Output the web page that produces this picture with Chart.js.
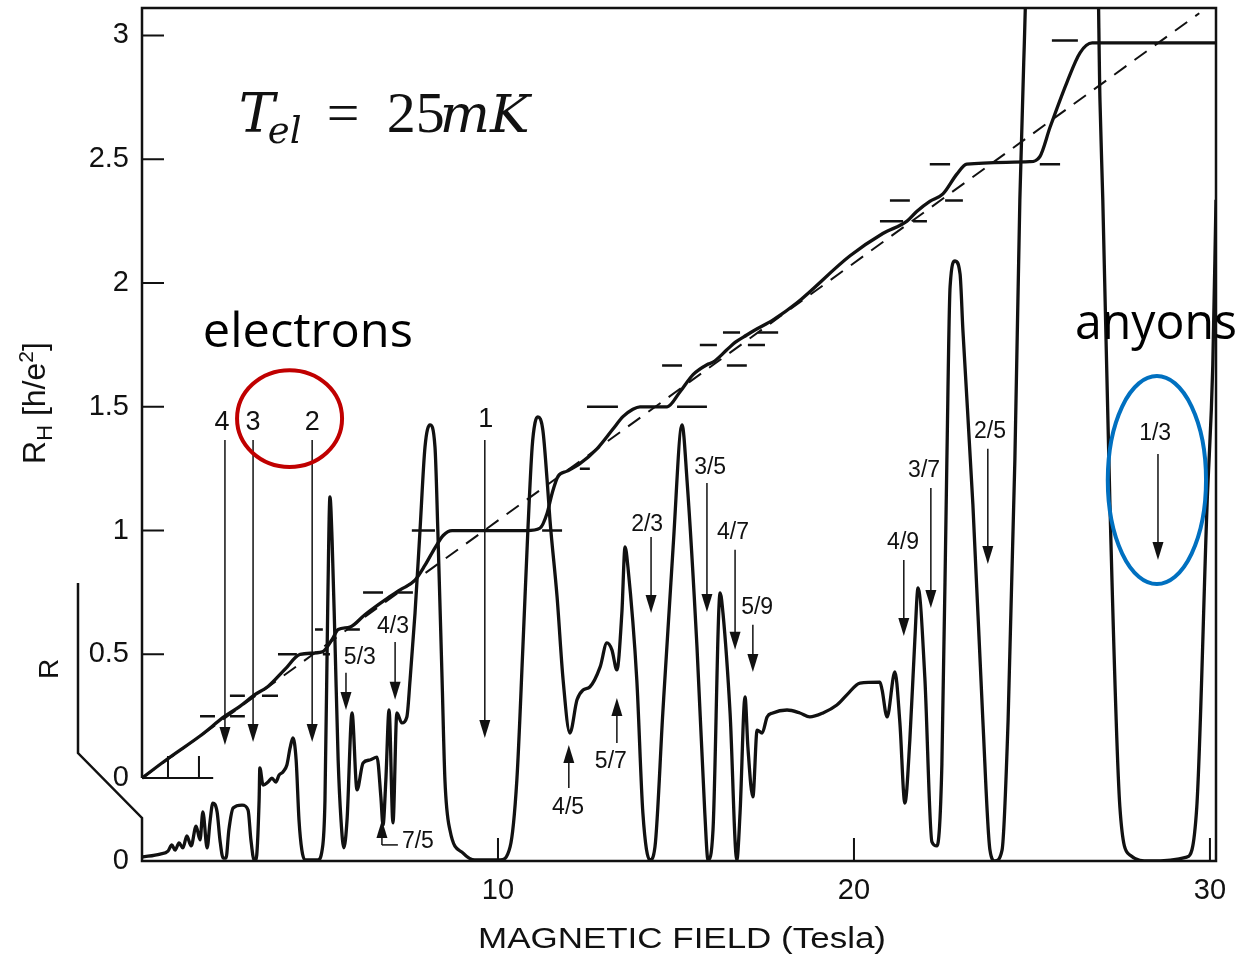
<!DOCTYPE html>
<html>
<head>
<meta charset="utf-8">
<title>Fractional quantum Hall effect</title>
<script src="https://cdn.jsdelivr.net/npm/chart.js@4.4.1/dist/chart.umd.min.js"></script>
<style>
  html, body { margin: 0; padding: 0; background: #fff; }
  #wrap { width: 1254px; height: 957px; }
</style>
</head>
<body>
<div id="wrap"><canvas id="qhe" width="1254" height="957"></canvas></div>
<script>
// Hall resistance R_H [h/e^2] vs magnetic field [T]
const hallField = [0, 0.79, 1.63, 2.33, 2.75, 3.15, 3.54, 4.02, 4.44, 5.06, 5.34, 5.51, 5.84, 6.26, 6.83, 7.25, 7.67, 7.95, 8.23, 8.46, 8.71, 10.81, 11.18, 11.38, 11.52, 11.69, 11.94, 12.30, 12.78, 13.23, 13.51, 13.79, 13.99, 14.75, 15.11, 15.48, 15.87, 16.04, 16.43, 16.66, 16.99, 17.22, 17.72, 18.40, 19.89, 20.81, 21.49, 21.77, 22.13, 22.50, 22.89, 23.17, 24.94, 25.22, 25.51, 25.98, 26.35, 26.69, 30.17];
const hallRH = [0, 0.085, 0.17, 0.25, 0.29, 0.335, 0.37, 0.44, 0.50, 0.51, 0.56, 0.60, 0.61, 0.66, 0.72, 0.76, 0.80, 0.86, 0.93, 0.98, 1.00, 1.00, 1.01, 1.07, 1.15, 1.22, 1.24, 1.27, 1.33, 1.41, 1.46, 1.49, 1.50, 1.50, 1.56, 1.63, 1.67, 1.68, 1.73, 1.76, 1.79, 1.81, 1.85, 1.92, 2.11, 2.20, 2.25, 2.29, 2.33, 2.36, 2.44, 2.48, 2.49, 2.51, 2.63, 2.81, 2.93, 2.97, 2.97];

// classical Hall line (dashed)
const classicalField = [0, 29.7];
const classicalRH = [0, 3.09];

// longitudinal resistance R (arbitrary units, same scale as R_H)
const rField = [0.00, 0.51, 0.73, 0.84, 0.93, 1.04, 1.15, 1.26, 1.38, 1.52, 1.63, 1.71, 1.83, 1.91, 1.99, 2.11, 2.19, 2.28, 2.36, 2.44, 2.56, 2.81, 2.98, 3.06, 3.15, 3.20, 3.29, 3.31, 3.40, 3.54, 3.65, 3.76, 3.85, 3.96, 4.07, 4.16, 4.24, 4.33, 4.41, 4.49, 4.58, 4.94, 5.06, 5.14, 5.22, 5.28, 5.34, 5.42, 5.51, 5.59, 5.67, 5.76, 5.90, 6.04, 6.21, 6.40, 6.60, 6.71, 6.77, 6.85, 6.94, 7.05, 7.16, 7.30, 7.44, 7.53, 7.67, 7.81, 7.95, 8.09, 8.23, 8.31, 8.43, 8.51, 8.65, 9.02, 9.35, 10.06, 10.34, 10.53, 10.70, 10.84, 10.96, 11.04, 11.12, 11.26, 11.38, 11.46, 11.66, 11.83, 12.02, 12.22, 12.39, 12.58, 12.87, 13.06, 13.20, 13.34, 13.48, 13.57, 13.65, 13.90, 14.07, 14.27, 14.41, 14.63, 14.92, 15.17, 15.31, 15.59, 15.81, 15.90, 16.04, 16.24, 16.32, 16.52, 16.71, 16.80, 16.94, 17.02, 17.16, 17.28, 17.42, 17.56, 17.72, 18.12, 18.48, 18.76, 19.13, 19.52, 19.80, 20.17, 20.73, 20.79, 20.93, 21.15, 21.29, 21.43, 21.57, 21.71, 21.80, 21.99, 22.19, 22.33, 22.47, 22.61, 22.70, 22.84, 22.98, 23.06, 23.34, 23.62, 23.82, 23.96, 24.16, 24.33, 24.52, 24.66, 24.78, 24.89, 26.83, 26.91, 26.99, 27.19, 27.47, 27.75, 28.31, 29.35, 29.63, 29.92, 30.08, 30.17];
const rValues = [0.016, 0.028, 0.040, 0.065, 0.044, 0.073, 0.053, 0.101, 0.061, 0.141, 0.085, 0.198, 0.053, 0.158, 0.234, 0.198, 0.085, 0.012, 0.012, 0.125, 0.214, 0.226, 0.206, 0.085, 0.004, 0.004, 0.246, 0.376, 0.307, 0.319, 0.335, 0.319, 0.347, 0.360, 0.388, 0.457, 0.497, 0.408, 0.166, 0.044, 0.004, 0.004, 0.044, 0.246, 1.055, 1.471, 1.297, 0.893, 0.408, 0.166, 0.053, 0.166, 0.598, 0.287, 0.396, 0.408, 0.420, 0.259, 0.145, 0.327, 0.610, 0.154, 0.598, 0.558, 0.582, 0.731, 1.002, 1.337, 1.673, 1.762, 1.673, 1.337, 0.731, 0.327, 0.125, 0.032, 0.004, 0.004, 0.057, 0.327, 0.865, 1.337, 1.673, 1.770, 1.794, 1.741, 1.539, 1.378, 1.067, 0.731, 0.517, 0.651, 0.691, 0.703, 0.784, 0.881, 0.853, 0.772, 1.002, 1.269, 1.188, 0.731, 0.194, 0.004, 0.057, 0.598, 1.269, 1.762, 1.539, 0.865, 0.194, 0.004, 0.125, 1.083, 1.002, 0.598, 0.004, 0.194, 0.663, 0.461, 0.259, 0.529, 0.517, 0.582, 0.598, 0.610, 0.598, 0.582, 0.598, 0.630, 0.671, 0.719, 0.723, 0.691, 0.582, 0.764, 0.558, 0.234, 0.489, 0.893, 1.103, 0.743, 0.077, 0.061, 0.392, 1.620, 2.319, 2.424, 2.372, 2.145, 1.442, 0.570, 0.044, 0.000, 0.044, 0.570, 1.620, 2.671, 3.277, 3.72, 3.72, 3.075, 2.671, 1.442, 0.218, 0.024, 0.000, 0.016, 0.218, 1.442, 2.004, 2.671];

// short horizontal marks at the quantized R_H values
const markLevel = [0.25, 0.25, 0.333, 0.333, 0.5, 0.5, 0.6, 0.6, 0.75, 0.75, 1, 1, 1.25, 1.5, 1.5, 1.667, 1.667, 1.75, 1.75, 1.8, 1.8, 2.25, 2.25, 2.333, 2.333, 2.48, 2.48, 2.98];
const markFrom = [1.63, 2.47, 2.47, 3.37, 3.82, 5.08, 4.86, 5.76, 6.21, 7.16, 7.58, 11.24, 12.30, 12.50, 15.03, 14.61, 16.43, 15.67, 17.02, 16.32, 17.30, 20.73, 21.66, 21.01, 22.56, 22.13, 25.22, 25.56];
const markTo = [2.05, 2.89, 2.89, 3.82, 4.35, 5.28, 5.08, 6.12, 6.77, 7.61, 8.23, 11.80, 12.58, 13.37, 15.87, 15.17, 16.99, 16.15, 17.50, 16.80, 17.87, 21.38, 22.05, 21.57, 23.06, 22.70, 25.79, 26.29];

// filling factor arrows (field, R of tail and tip, label position)
const arrowLabels = ['4', '3', '2', '1', '5/3', '4/3', '7/5', '4/5', '5/7', '2/3', '3/5', '4/7', '5/9', '4/9', '3/7', '2/5', '1/3'];
const arrowField = [2.33, 3.12, 4.78, 9.63, 5.73, 7.11, 6.74, 11.99, 13.34, 14.30, 15.87, 16.66, 17.16, 21.40, 22.16, 23.76, 28.54];
const arrowTail = [1.701, 1.701, 1.701, 1.701, 0.760, 0.885, 0.065, 0.295, 0.477, 1.309, 1.527, 1.257, 0.954, 1.216, 1.507, 1.665, 1.644];
const arrowTip = [0.469, 0.481, 0.481, 0.497, 0.610, 0.651, 0.166, 0.469, 0.659, 1.002, 1.006, 0.853, 0.764, 0.909, 1.022, 1.200, 1.216];
const labelField = [2.25, 3.12, 4.78, 9.66, 6.12, 7.05, 7.75, 11.97, 13.17, 14.19, 15.96, 16.60, 17.28, 21.38, 21.97, 23.82, 28.46];
const labelR = [1.770, 1.770, 1.770, 1.782, 0.820, 0.945, 0.077, 0.214, 0.400, 1.358, 1.588, 1.325, 1.022, 1.285, 1.576, 1.733, 1.725];

// axis ticks
const xTicks = [10, 20, 30];
const rhTicks = [0, 0.5, 1, 1.5, 2, 2.5, 3];
const baselineTicks = [0.73, 1.6];

const INK = '#111';
const SANS = '"Liberation Sans", Arial, sans-serif';
const CALIBRI = '"Open Sans", "Noto Sans", sans-serif';

function pairs(xs, ys) {
  return xs.map((v, i) => ({ x: v, y: ys[i] }));
}

function markData() {
  const out = [];
  markLevel.forEach((lvl, i) => {
    out.push({ x: markFrom[i], y: lvl }, { x: markTo[i], y: lvl }, { x: markTo[i], y: null });
  });
  return out;
}

// draw text stretched to a given width
function fitText(ctx, text, x, y, width, size, family) {
  ctx.font = size + 'px ' + family;
  const w = ctx.measureText(text).width;
  ctx.save();
  ctx.translate(x, y);
  ctx.scale(width / w, 1);
  ctx.textAlign = 'left';
  ctx.fillText(text, 0, 0);
  ctx.restore();
}

function arrow(ctx, px, yTail, yTip) {
  const dir = yTip > yTail ? 1 : -1;
  ctx.beginPath();
  ctx.moveTo(px, yTail);
  ctx.lineTo(px, yTip - dir * 16);
  ctx.stroke();
  ctx.beginPath();
  ctx.moveTo(px, yTip);
  ctx.lineTo(px - 5.5, yTip - dir * 18);
  ctx.lineTo(px + 5.5, yTip - dir * 18);
  ctx.closePath();
  ctx.fill();
}

const decor = {
  id: 'decor',
  afterDatasetsDraw(chart) {
    const { ctx, chartArea: a, scales } = chart;
    const x = scales.x, h = scales.yRH, r = scales.yR;
    ctx.save();
    ctx.strokeStyle = INK;
    ctx.fillStyle = INK;

    // frame and broken R axis
    ctx.lineWidth = 2.5;
    ctx.beginPath();
    ctx.moveTo(a.left, h.getPixelForValue(0));
    ctx.lineTo(a.left, a.top);
    ctx.lineTo(a.right, a.top);
    ctx.lineTo(a.right, a.bottom);
    ctx.lineTo(a.left, a.bottom);
    ctx.lineTo(a.left, r.getPixelForValue(0.174));
    ctx.lineTo(a.left - 64, r.getPixelForValue(0.436));
    ctx.lineTo(a.left - 64, r.getPixelForValue(1.123));
    ctx.stroke();

    // R_H zero line, inward ticks
    const y0 = h.getPixelForValue(0);
    ctx.lineWidth = 2;
    ctx.beginPath();
    ctx.moveTo(a.left, y0);
    ctx.lineTo(x.getPixelForValue(2.0), y0);
    baselineTicks.forEach(v => {
      const px = x.getPixelForValue(v);
      ctx.moveTo(px, y0);
      ctx.lineTo(px, y0 - 22);
    });
    rhTicks.forEach(v => {
      const py = h.getPixelForValue(v);
      ctx.moveTo(a.left, py);
      ctx.lineTo(a.left + 22, py);
    });
    xTicks.forEach(v => {
      const px = x.getPixelForValue(v);
      ctx.moveTo(px, a.bottom);
      ctx.lineTo(px, a.bottom - 23);
    });
    ctx.stroke();

    // zero of R
    ctx.font = '29px ' + SANS;
    ctx.textAlign = 'right';
    ctx.textBaseline = 'middle';
    ctx.fillText('0', a.left - 13, r.getPixelForValue(0));

    // axis titles
    ctx.save();
    ctx.translate(a.left - 97, h.getPixelForValue(1.515));
    ctx.rotate(-Math.PI / 2);
    ctx.textBaseline = 'alphabetic';
    ctx.textAlign = 'left';
    const parts = [['R', 32, 0], ['H', 22, 7], [' [h/e', 32, 0], ['2', 21, -12], [']', 32, 0]];
    let total = 0;
    parts.forEach(p => { ctx.font = p[1] + 'px ' + SANS; total += ctx.measureText(p[0]).width; });
    let cx = -total / 2;
    parts.forEach(p => {
      ctx.font = p[1] + 'px ' + SANS;
      ctx.fillText(p[0], cx, p[2]);
      cx += ctx.measureText(p[0]).width;
    });
    ctx.restore();

    ctx.save();
    ctx.translate(a.left - 84, r.getPixelForValue(0.776));
    ctx.rotate(-Math.PI / 2);
    ctx.font = '28px ' + SANS;
    ctx.textAlign = 'center';
    ctx.textBaseline = 'alphabetic';
    ctx.fillText('R', 0, 0);
    ctx.restore();

    ctx.textBaseline = 'alphabetic';
    const tw = 408;
    fitText(ctx, 'MAGNETIC FIELD (Tesla)', (a.left + a.right) / 2 + 3 - tw / 2, a.bottom + 87, tw, 30, SANS);

    // filling factor arrows
    ctx.lineWidth = 1.5;
    arrowLabels.forEach((lab, i) => {
      const px = x.getPixelForValue(arrowField[i]);
      const yT = r.getPixelForValue(arrowTail[i]);
      arrow(ctx, px, yT, r.getPixelForValue(arrowTip[i]));
      const lx = x.getPixelForValue(labelField[i]);
      if (lab === '7/5') {
        ctx.beginPath();
        ctx.moveTo(px, yT);
        ctx.lineTo(lx - 20, yT);
        ctx.stroke();
      }
      ctx.font = (lab.length === 1 ? 27 : 23) + 'px ' + SANS;
      ctx.textAlign = 'center';
      ctx.textBaseline = 'middle';
      ctx.fillText(lab, lx, r.getPixelForValue(labelR[i]));
    });

    // temperature
    const tx = x.getPixelForValue(2.72), ty = h.getPixelForValue(2.61);
    ctx.textAlign = 'left';
    ctx.textBaseline = 'alphabetic';
    ctx.font = 'italic 54px "DejaVu Serif", serif';
    ctx.fillText('T', tx, ty);
    ctx.font = 'italic 37px "DejaVu Serif", serif';
    ctx.fillText('el', tx + 29, ty + 11);
    ctx.font = '58px "Liberation Serif", serif';
    ctx.fillText('=', tx + 88, ty);
    ctx.fillText('25', tx + 148, ty);
    ctx.font = 'italic 53px "DejaVu Serif", serif';
    ctx.fillText('mK', tx + 201, ty);

    // callouts
    ctx.fillStyle = '#000';
    fitText(ctx, 'electrons', x.getPixelForValue(1.71), h.getPixelForValue(1.741), 210, 48, CALIBRI);
    fitText(ctx, 'anyons', x.getPixelForValue(26.21), h.getPixelForValue(1.774), 162, 50, CALIBRI);

    const ring = (x1, x2, y1, y2, color) => {
      const l = x.getPixelForValue(x1), rr = x.getPixelForValue(x2);
      const t = h.getPixelForValue(y2), b = h.getPixelForValue(y1);
      ctx.strokeStyle = color;
      ctx.lineWidth = 4;
      ctx.beginPath();
      ctx.ellipse((l + rr) / 2, (t + b) / 2, (rr - l) / 2, (b - t) / 2, 0, 0, Math.PI * 2);
      ctx.stroke();
    };
    ring(2.67, 5.62, 1.257, 1.648, '#c00000');
    ring(27.13, 29.89, 0.784, 1.624, '#0070c0');

    ctx.restore();
  }
};

new Chart(document.getElementById('qhe'), {
  type: 'line',
  data: {
    datasets: [
      {
        label: 'R',
        data: pairs(rField, rValues),
        yAxisID: 'yR',
        borderColor: INK,
        borderWidth: 3.3,
        cubicInterpolationMode: 'monotone'
      },
      {
        label: 'R_H',
        data: pairs(hallField, hallRH),
        yAxisID: 'yRH',
        borderColor: INK,
        borderWidth: 3.3,
        cubicInterpolationMode: 'monotone'
      },
      {
        label: 'classical',
        data: pairs(classicalField, classicalRH),
        yAxisID: 'yRH',
        borderColor: INK,
        borderWidth: 2,
        borderDash: [15, 10]
      },
      {
        label: 'plateaus',
        data: markData(),
        yAxisID: 'yRH',
        borderColor: INK,
        borderWidth: 2.5,
        spanGaps: false
      }
    ]
  },
  options: {
    responsive: false,
    animation: false,
    events: [],
    layout: { padding: { top: 8, right: 38, left: 0, bottom: 0 } },
    elements: { point: { radius: 0 }, line: { tension: 0 } },
    plugins: { legend: { display: false }, tooltip: { enabled: false } },
    scales: {
      x: {
        type: 'linear',
        min: 0,
        max: 30.17,
        afterBuildTicks: s => { s.ticks = xTicks.map(v => ({ value: v })); },
        afterFit: s => { s.height = 96; s.paddingLeft = 0; s.paddingRight = 0; },
        grid: { display: false, drawTicks: false },
        border: { display: false },
        ticks: { padding: 13, color: INK, maxRotation: 0, font: { family: SANS, size: 29 }, callback: v => String(v) }
      },
      yRH: {
        type: 'linear',
        position: 'left',
        min: -0.335,
        max: 3.111,
        afterBuildTicks: s => { s.ticks = rhTicks.map(v => ({ value: v })); },
        afterFit: s => { s.width = 142; s.paddingTop = 0; s.paddingBottom = 0; },
        grid: { display: false, drawTicks: false },
        border: { display: false },
        ticks: { padding: 13, color: INK, font: { family: SANS, size: 29 }, callback: v => String(v) }
      },
      yR: {
        type: 'linear',
        display: false,
        min: 0,
        max: 3.446
      }
    }
  },
  plugins: [decor]
});
</script>
</body>
</html>
